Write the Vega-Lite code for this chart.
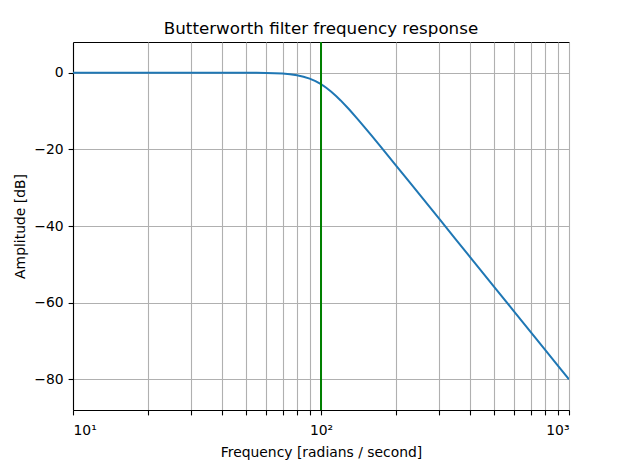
{
  "$schema": "https://vega.github.io/schema/vega-lite/v6.json",
  "width": 496,
  "height": 368,
  "autosize": {"type": "none"},
  "padding": {"left": 73, "top": 42, "right": 52, "bottom": 52},
  "background": "white",
  "config": {
    "font": "DejaVu Sans",
    "view": {"stroke": "black", "strokeWidth": 1},
    "axis": {
      "labelFont": "DejaVu Sans", "titleFont": "DejaVu Sans",
      "labelFontSize": 13.9, "titleFontSize": 13.9, "titleFontWeight": "normal",
      "labelColor": "black", "titleColor": "black",
      "tickColor": "black", "domainColor": "black", "tickWidth": 1.1, "domainWidth": 1.1,
      "gridColor": "#b0b0b0", "gridWidth": 1.1, "gridOpacity": 1,
      "tickSize": 4.9, "labelPadding": 4.9
    },
    "title": {"font": "DejaVu Sans", "fontSize": 16.7, "fontWeight": "normal", "color": "black"}
  },
  "title": {"text": "Butterworth filter frequency response", "offset": 4, "anchor": "middle"},
  "data": {"values": [
    {"w": 10, "db": 0.0},
    {"w": 20, "db": -0.00001},
    {"w": 30, "db": -0.0003},
    {"w": 40, "db": -0.0029},
    {"w": 45, "db": -0.0073},
    {"w": 50, "db": -0.017},
    {"w": 55, "db": -0.036},
    {"w": 60, "db": -0.072},
    {"w": 65, "db": -0.136},
    {"w": 70, "db": -0.243},
    {"w": 75, "db": -0.414},
    {"w": 80, "db": -0.673},
    {"w": 85, "db": -1.045},
    {"w": 90, "db": -1.555},
    {"w": 95, "db": -2.210},
    {"w": 100, "db": -3.010},
    {"w": 105, "db": -3.940},
    {"w": 110, "db": -4.974},
    {"w": 115, "db": -6.084},
    {"w": 120, "db": -7.243},
    {"w": 130, "db": -9.618},
    {"w": 140, "db": -11.975},
    {"w": 150, "db": -14.254},
    {"w": 160, "db": -16.43},
    {"w": 175, "db": -19.49},
    {"w": 200, "db": -24.10},
    {"w": 225, "db": -28.18},
    {"w": 250, "db": -31.84},
    {"w": 300, "db": -38.17},
    {"w": 350, "db": -43.53},
    {"w": 400, "db": -48.17},
    {"w": 500, "db": -55.92},
    {"w": 600, "db": -62.25},
    {"w": 700, "db": -67.61},
    {"w": 800, "db": -72.25},
    {"w": 900, "db": -76.34},
    {"w": 1000, "db": -80.0}
  ]},
  "layer": [
    {
      "mark": {"type": "line", "color": "#1f77b4", "strokeWidth": 2, "clip": true},
      "encoding": {
        "x": {"field": "w", "type": "quantitative",
          "scale": {"type": "log", "domain": [10, 1000], "nice": false},
          "axis": {
            "title": "Frequency [radians / second]",
            "values": [10,20,30,40,50,60,70,80,90,100,200,300,400,500,600,700,800,900,1000],
            "labelExpr": "datum.value == 10 ? '10¹' : datum.value == 100 ? '10²' : datum.value == 1000 ? '10³' : ''",
            "labelPadding": 9,
            "titlePadding": 8
          }},
        "y": {"field": "db", "type": "quantitative",
          "scale": {"domain": [-88, 8], "nice": false, "zero": false},
          "axis": {"title": "Amplitude [dB]", "values": [-80,-60,-40,-20,0], "titlePadding": 6}}
      }
    },
    {
      "mark": {"type": "rule", "color": "green", "strokeWidth": 1.6},
      "encoding": {"x": {"datum": 100}}
    }
  ]
}
